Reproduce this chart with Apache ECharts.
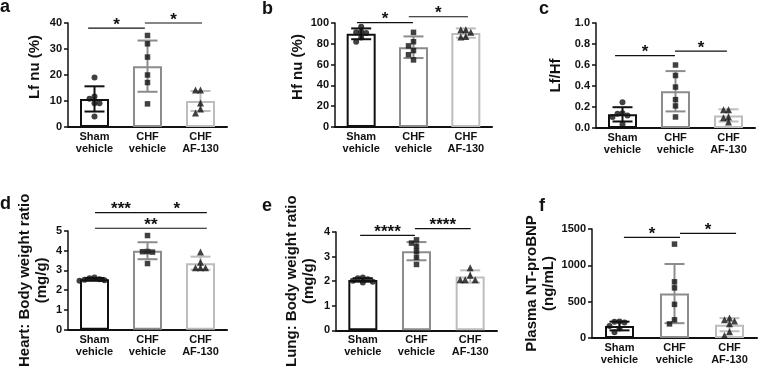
<!DOCTYPE html>
<html>
<head>
<meta charset="utf-8">
<script src="https://cdn.jsdelivr.net/npm/echarts@6/dist/echarts.min.js"></script>
<style>html,body{margin:0;background:#fff}#chart{width:761px;height:369px}</style>
</head>
<body>
<div id="chart"></div>
<script>
var groups = ['Sham\nvehicle', 'CHF\nvehicle', 'CHF\nAF-130'];

// a: Lf nu (%)
var lfMean = [10.8, 23.4, 10.0];
var lfSd = [4.85, 9.85, 3.85];
var lfSham = [19.0, 11.7, 10.9, 9.1, 9.1, 4.0];
var lfChf = [35.2, 32.0, 26.9, 20.0, 17.1, 8.9];
var lfAf = [14.2, 14.2, 9.2, 6.9, 5.4];
var lfBrackets = [[-0.12, 0.95, 38, '*'], [0.95, 2.03, 40, '*']];

// b: Hf nu (%)
var hfMean = [89.6, 76.7, 90.3];
var hfSd = [5.2, 10.4, 4.5];
var hfSham = [96.5, 91.5, 91.0, 90.5, 86.0, 82.0];
var hfChf = [91.0, 82.0, 78.0, 73.5, 69.5, 64.5];
var hfAf = [93.5, 93.5, 91.0, 87.0, 86.5];
var hfBrackets = [[-0.08, 0.99, 100.3, '*'], [0.91, 2.04, 106, '*']];

// c: Lf/Hf
var ratioMean = [0.13, 0.35, 0.12];
var ratioSd = [0.068, 0.192, 0.058];
var ratioSham = [0.245, 0.14, 0.135, 0.12, 0.105, 0.035];
var ratioChf = [0.60, 0.50, 0.39, 0.27, 0.21, 0.105];
var ratioAf = [0.175, 0.175, 0.105, 0.098, 0.057];
var ratioBrackets = [[-0.14, 0.99, 0.69, '*'], [0.99, 1.97, 0.733, '*']];

// d: Heart: Body weight ratio
var heartMean = [2.55, 4.0, 3.37];
var heartSd = [0.07, 0.43, 0.33];
var heartSham = [2.64, 2.6, 2.56, 2.53, 2.5, 2.48];
var heartChf = [4.77, 3.96, 3.95, 3.93, 3.35];
var heartAf = [3.93, 3.42, 3.14, 3.14, 3.14];
var heartBrackets = [[0.01, 0.99, 5.93, '***'], [0.99, 2.12, 5.93, '*'], [0.01, 2.12, 5.14, '**']];

// e: Lung: Body weight ratio
var lungMean = [2.05, 3.22, 2.19];
var lungSd = [0.07, 0.37, 0.25];
var lungSham = [2.15, 2.12, 2.08, 2.02, 1.98, 1.95];
var lungChf = [3.68, 3.55, 3.42, 3.21, 2.97, 2.68];
var lungAf = [2.55, 2.24, 2.06, 2.06, 2.06];
var lungBrackets = [[-0.05, 0.97, 3.86, '****'], [0.97, 2.01, 4.14, '****']];

// f: Plasma NT-proBNP
var bnpMean = [165, 611, 183];
var bnpSd = [60, 407, 90];
var bnpSham = [228, 222, 215, 165, 130, 80];
var bnpChf = [1292, 773, 690, 463, 250, 194];
var bnpAf = [275, 250, 235, 195, 85, 35];
var bnpBrackets = [[0.08, 1.1, 1386, '*'], [1.1, 2.12, 1441, '*']];

var barColors = ['#111111', '#8c8c8c', '#bdbdbd'];
var symbols = ['circle', 'rect', 'triangle'];
var symbolSizes = [6, 5.5, 7];
var font = 'Liberation Sans, Arial, sans-serif';

var panels = [
    {letter: 'a', name: 'Lf nu (%)', yMax: 40, step: 10, mean: lfMean, sd: lfSd, pts: [lfSham, lfChf, lfAf], br: lfBrackets,
     grid: {left: 68, top: 23, width: 159, height: 104}, nameGap: 25, nameShift: 16, letterPos: [0, -2]},
    {letter: 'b', name: 'Hf nu (%)', yMax: 100, step: 20, mean: hfMean, sd: hfSd, pts: [hfSham, hfChf, hfAf], br: hfBrackets,
     grid: {left: 335, top: 23, width: 157, height: 104}, nameGap: 25, nameShift: 16, letterPos: [262, 0]},
    {letter: 'c', name: 'Lf/Hf', yMax: 1, step: 0.2, digits: 1, mean: ratioMean, sd: ratioSd, pts: [ratioSham, ratioChf, ratioAf], br: ratioBrackets,
     grid: {left: 596, top: 23, width: 159, height: 105}, nameGap: 32, nameShift: 0, letterPos: [539, 0]},
    {letter: 'd', name: 'Heart: Body weight ratio\n(mg/g)', yMax: 5, step: 1, mean: heartMean, sd: heartSd, pts: [heartSham, heartChf, heartAf], br: heartBrackets,
     grid: {left: 68, top: 231, width: 159, height: 108}, nameGap: 18, nameShift: 0, letterPos: [0, 195]},
    {letter: 'e', name: 'Lung: Body weight ratio\n(mg/g)', yMax: 4, step: 1, mean: lungMean, sd: lungSd, pts: [lungSham, lungChf, lungAf], br: lungBrackets,
     grid: {left: 336, top: 232, width: 161, height: 107}, nameGap: 19, nameShift: 0, letterPos: [262, 197]},
    {letter: 'f', name: 'Plasma NT-proBNP\n(ng/mL)', yMax: 1500, step: 500, mean: bnpMean, sd: bnpSd, pts: [bnpSham, bnpChf, bnpAf], br: bnpBrackets,
     grid: {left: 592, top: 229, width: 165, height: 109}, nameGap: 28, nameShift: 0, letterPos: [539, 197]}
];

// spread overlapping points sideways, like a dot plot
function swarm(vals, p) {
    var pxPerUnit = p.grid.height / p.yMax;
    var catPx = p.grid.width / 3;
    var step = 5;
    var placed = [];
    return vals.map(function (v) {
        var y = v * pxPerUnit;
        for (var k = 0; k < 12; k++) {
            var dx = (k % 2 ? -1 : 1) * Math.ceil(k / 2) * step;
            var free = placed.every(function (q) {
                return Math.abs(q[0] - dx) >= step || Math.abs(q[1] - y) >= step;
            });
            if (free) { placed.push([dx, y]); return dx / catPx; }
        }
        return 0;
    });
}

function errorRenderer(p) {
    return function (params, api) {
        var g = params.dataIndex;
        var top = api.coord([g, p.mean[g] + p.sd[g]]);
        var bot = api.coord([g, p.mean[g] - p.sd[g]]);
        var st = {stroke: barColors[g], lineWidth: 2};
        var h = 10;
        return {type: 'group', children: [
            {type: 'line', shape: {x1: top[0], y1: top[1], x2: bot[0], y2: bot[1]}, style: st},
            {type: 'line', shape: {x1: top[0] - h, y1: top[1], x2: top[0] + h, y2: top[1]}, style: st},
            {type: 'line', shape: {x1: bot[0] - h, y1: bot[1], x2: bot[0] + h, y2: bot[1]}, style: st}
        ]};
    };
}

function bracketRenderer(p) {
    return function (params, api) {
        var br = p.br[params.dataIndex];
        var a = api.coord([br[0], br[2]]);
        var b = api.coord([br[1], br[2]]);
        return {type: 'group', children: [
            {type: 'line', shape: {x1: a[0], y1: a[1], x2: b[0], y2: a[1]}, style: {stroke: '#111', lineWidth: 1.2}},
            {type: 'text', x: (a[0] + b[0]) / 2, y: a[1] - 3,
             style: {text: br[3], fill: '#111', font: 'bold 17px ' + font, align: 'center', verticalAlign: 'middle'}}
        ]};
    };
}

var grids = [], xAxes = [], yAxes = [], series = [], titles = [];
panels.forEach(function (p, i) {
    grids.push(Object.assign({containLabel: false}, p.grid));
    titles.push({text: p.letter, left: p.letterPos[0], top: p.letterPos[1], padding: 0,
                 textStyle: {fontSize: 18, fontWeight: 'bold', fontFamily: font, color: '#111'}});
    xAxes.push({type: 'category', gridIndex: i, data: groups,
        axisLine: {lineStyle: {color: '#111', width: 2}}, axisTick: {show: false},
        axisLabel: {interval: 0, fontSize: 11, fontWeight: 'bold', fontFamily: font, color: '#111', lineHeight: 12, margin: 4}});
    xAxes.push({type: 'value', gridIndex: i, min: -0.5, max: 2.5, show: false});
    yAxes.push({type: 'value', gridIndex: i, min: 0, max: p.yMax, interval: p.step,
        name: p.name, nameLocation: 'middle', nameGap: p.nameGap, nameRotate: 90,
        nameTextStyle: {fontSize: 15, fontWeight: 'bold', fontFamily: font, color: '#111', lineHeight: 17,
            padding: [0, 0, 0, p.nameShift]},
        axisLine: {show: true, onZero: false, lineStyle: {color: '#111', width: 1.5}},
        axisTick: {show: true, length: 4, lineStyle: {color: '#111', width: 1.5}},
        splitLine: {show: false},
        axisLabel: {fontSize: 11, fontWeight: 'bold', fontFamily: font, color: '#111', margin: 6,
            formatter: function (v) { return p.digits ? v.toFixed(p.digits) : String(v); }}});

    series.push({type: 'bar', xAxisIndex: 2 * i, yAxisIndex: i, barWidth: 29, silent: true, z: 1,
        data: p.mean.map(function (m, g) {
            return {value: m, itemStyle: {color: '#fff', borderColor: barColors[g], borderWidth: 2}};
        })});
    series.push({type: 'custom', xAxisIndex: 2 * i + 1, yAxisIndex: i, z: 2, silent: true,
        renderItem: errorRenderer(p),
        data: p.mean.map(function (m, g) { return [g, m]; })});
    p.pts.forEach(function (vals, g) {
        var offs = swarm(vals, p);
        series.push({type: 'scatter', xAxisIndex: 2 * i + 1, yAxisIndex: i, z: 3, silent: true,
            symbol: symbols[g], symbolSize: symbolSizes[g], itemStyle: {color: '#111'},
            data: vals.map(function (v, k) { return [g + offs[k], v]; })});
    });
    series.push({type: 'custom', xAxisIndex: 2 * i + 1, yAxisIndex: i, z: 4, silent: true, clip: false,
        renderItem: bracketRenderer(p),
        data: p.br.map(function (b) { return [(b[0] + b[1]) / 2, Math.min(b[2], p.yMax)]; })});
});

var myChart = echarts.init(document.getElementById('chart'));
myChart.setOption({
    backgroundColor: '#fff',
    animation: false,
    title: titles,
    grid: grids,
    xAxis: xAxes,
    yAxis: yAxes,
    series: series
});
</script>
</body>
</html>
